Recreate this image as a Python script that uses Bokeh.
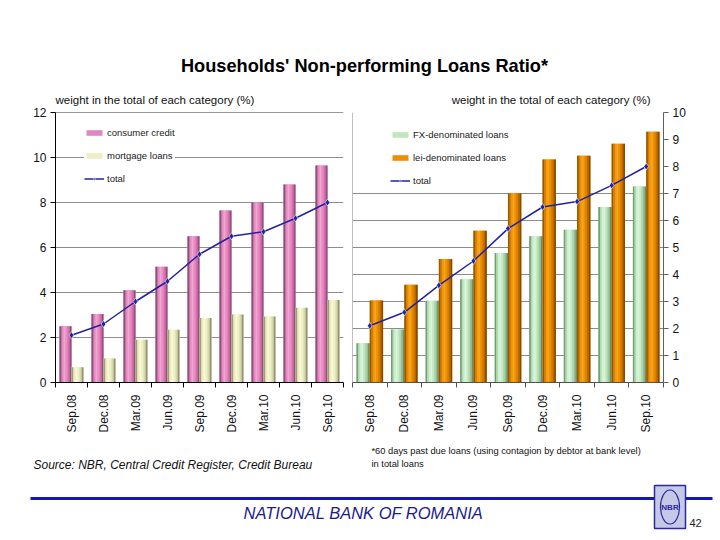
import math
from bokeh.plotting import figure
from bokeh.models import (Range1d, LinearAxis, FixedTicker,
                          Legend, LegendItem, Span, Grid, ColumnDataSource)
from bokeh.transform import dodge
from bokeh.layouts import column, row
from bokeh.core.properties import value
from bokeh.embed import file_html
from bokeh.resources import INLINE

# ---------------- data ----------------
categories = ["Sep.08", "Dec.08", "Mar.09", "Jun.09", "Sep.09", "Dec.09", "Mar.10", "Jun.10", "Sep.10"]
consumer_credit = [2.5, 3.05, 4.1, 5.15, 6.5, 7.65, 8.0, 8.8, 9.65]
mortgage_loans = [0.68, 1.07, 1.9, 2.35, 2.87, 3.02, 2.93, 3.32, 3.67]
total_ratio = [2.1, 2.6, 3.6, 4.5, 5.7, 6.5, 6.7, 7.3, 8.0]
fx_loans = [1.45, 1.96, 3.03, 3.82, 4.8, 5.42, 5.66, 6.5, 7.26]
lei_loans = [3.04, 3.62, 4.57, 5.62, 7.01, 8.26, 8.4, 8.84, 9.29]
left_ticks = [0, 2, 4, 6, 8, 10, 12]
right_ticks = [0, 1, 2, 3, 4, 5, 6, 7, 8, 9, 10]
left_grid = [2, 4, 6, 8, 10]
right_grid = [1, 2, 3, 4, 5, 6, 7]

FONT = "Liberation Sans"
LINE_C = "#22229E"
GRID_C = "#8C8C8C"
AXIS_TITLE = "weight in the total of each category (%)"

N = len(categories)
centers = [i + 0.5 for i in range(N)]          # category slots on a numeric scale
edges = list(range(N + 1))                      # slot boundaries (tick marks)
cat_labels = {c: lab for c, lab in zip(centers, categories)}

src = ColumnDataSource(dict(pos=centers, cat=categories, consumer=consumer_credit, mortgage=mortgage_loans,
                            total=total_ratio, fx=fx_loans, lei=lei_loans))

PINK = ["#8E4C74", "#C872A6", "#EA96CA", "#F2A6D6", "#EA90C6", "#DC80B6", "#C46AA0", "#93507C"]
CREAM = ["#9C9C7C", "#DCDCAE", "#F4F4D0", "#FAFAD8", "#F0F0C6", "#E2E2B4", "#C8C89C", "#929274"]
GREEN = ["#749E74", "#B2DAB2", "#D0F0D0", "#DAF6DA", "#C6EAC6", "#B0D8B0", "#94BE94", "#6A906A"]
ORANGE = ["#965800", "#D47E00", "#F29A12", "#F8A620", "#EE9200", "#DA8000", "#BC6A00", "#864C00"]


def shaded_bars(p, col, offset, width, colors, base_color):
    base = p.vbar(x=dodge("pos", offset), top=col, width=width, source=src,
                  fill_color=base_color, line_color=None)
    n = len(colors)
    sw = width / n
    for i, c in enumerate(colors):
        off = offset - width / 2 + (i + 0.5) * sw
        p.vbar(x=dodge("pos", off), top=col, width=sw * 1.05, source=src,
               fill_color=c, line_color=None)
    return base


def total_line(p):
    ln = p.line(x="pos", y="total", source=src, line_color=LINE_C, line_width=1.5)
    sc = p.scatter(x="pos", y="total", source=src, marker="diamond", size=7,
                   fill_color=LINE_C, line_color="white", line_width=0.6)
    return ln, sc


def cat_axis(color):
    return LinearAxis(ticker=FixedTicker(ticks=centers, minor_ticks=edges), major_label_overrides=cat_labels,
                      axis_line_color=color, major_tick_line_color=None, major_tick_out=0, major_tick_in=0,
                      minor_tick_line_color=color, minor_tick_out=5, minor_tick_in=0,
                      major_label_orientation=math.pi / 2, major_label_text_font=FONT,
                      major_label_text_font_size="12px", major_label_standoff=7,
                      major_label_text_color="#111111")


def y_axis(ticks, line_color):
    return LinearAxis(ticker=FixedTicker(ticks=ticks), major_tick_out=5, major_tick_in=0,
                      minor_tick_line_color=None, axis_line_color=line_color,
                      major_tick_line_color=line_color,
                      major_label_text_font=FONT, major_label_text_font_size="12px",
                      major_label_standoff=4, major_label_text_color="#111111")


def legend(items, loc, pad, bg):
    return Legend(items=items, location=loc, orientation="vertical", border_line_color=None,
                  background_fill_color="white", background_fill_alpha=bg, padding=pad, margin=0,
                  spacing=12, glyph_width=20, glyph_height=7, label_height=8, label_standoff=3,
                  label_text_font=FONT, label_text_font_size="9.5px", label_text_color="#1a1a1a")


def chart(width, y_max, borders):
    p = figure(width=width, height=334, x_range=Range1d(0, N), y_range=Range1d(0, y_max),
               output_backend="svg", toolbar_location=None,
               x_axis_location=None, y_axis_location=None, outline_line_color=None,
               min_border_left=borders[0], min_border_right=borders[1],
               min_border_top=borders[2], min_border_bottom=borders[3])
    p.grid.visible = False
    return p


# ---------------- left chart ----------------
pl = chart(347, 12, (55, 4, 6, 58))
pl.add_layout(Grid(dimension=1, ticker=FixedTicker(ticks=left_grid), grid_line_color=GRID_C))
pl.add_layout(y_axis(left_ticks, "black"), "left")
pl.add_layout(cat_axis("black"), "below")

b_cons = shaded_bars(pl, "consumer", -0.1875, 0.375, PINK, "#E088BE")
b_mort = shaded_bars(pl, "mortgage", 0.1875, 0.375, CREAM, "#EEEEC4")
l_ln, l_sc = total_line(pl)
pl.add_layout(legend([LegendItem(label="consumer credit", renderers=[b_cons]),
                      LegendItem(label="mortgage loans", renderers=[b_mort]),
                      LegendItem(label="total", renderers=[l_ln, l_sc])], (29, 198), 14, 1.0))
pl.add_layout(Span(location=12, dimension="width", line_color="#333333", line_width=1))

# ---------------- right chart ----------------
pr = chart(373, 10, (5, 57, 4, 58))
pr.add_layout(Grid(dimension=1, ticker=FixedTicker(ticks=right_grid), grid_line_color=GRID_C))
pr.add_layout(y_axis(right_ticks, "#606060"), "right")
pr.add_layout(cat_axis("#505050"), "below")
pr.add_layout(Span(location=0, dimension="height", line_color="#808080", line_width=1))

b_fx = shaded_bars(pr, "fx", -0.1925, 0.385, GREEN, "#C0E6C0")
b_lei = shaded_bars(pr, "lei", 0.1925, 0.385, ORANGE, "#EE8E00")
r_ln, r_sc = total_line(pr)
pr.add_layout(legend([LegendItem(label="FX-denominated loans", renderers=[b_fx]),
                      LegendItem(label="lei-denominated loans", renderers=[b_lei]),
                      LegendItem(label="total", renderers=[r_ln, r_sc])], (38, 196), 0, 0.0))


# ---------------- title & footer ----------------
def blank(w, h):
    p = figure(width=w, height=h, x_range=Range1d(0, w), y_range=Range1d(0, h), output_backend="svg",
               toolbar_location=None, min_border=0, x_axis_location=None, y_axis_location=None,
               outline_line_color=None)
    p.grid.visible = False
    return p


pt = blank(720, 106)
pt.text(x=[364], y=[41], text=["Households' Non-performing Loans Ratio*"], text_font=value(FONT),
        text_font_style="bold", text_font_size="18.2px", text_align="center", text_baseline="middle",
        text_color="#000000")
pt.text(x=[55], y=[6.5], text=[AXIS_TITLE], text_font=value(FONT), text_font_size="11.5px",
        text_align="left", text_baseline="middle", text_color="#111111")
pt.text(x=[650], y=[6.5], text=[AXIS_TITLE], text_font=value(FONT), text_font_size="11.5px",
        text_align="right", text_baseline="middle", text_color="#111111")

pb = blank(720, 100)
pb.text(x=[33], y=[76], text=["Source: NBR, Central Credit Register, Credit Bureau"], text_font=value(FONT),
        text_font_style="italic", text_font_size="12px", text_align="left", text_baseline="middle",
        text_color="#111111")
pb.text(x=[371, 371], y=[90, 77],
        text=["*60 days past due  loans (using contagion by debtor at bank level)", "in total loans"],
        text_font=value(FONT), text_font_size="9.3px", text_align="left", text_baseline="middle",
        text_color="#111111")
pb.segment(x0=[30, 685], y0=[42, 42], x1=[654, 712], y1=[42, 42], line_color="#1414C4", line_width=3)
pb.rect(x=[669.5], y=[33.5], width=[31], height=[43], fill_color="#C5C9E6", line_color="#2A2AA0",
        line_width=1.5)
pb.ellipse(x=[669.5], y=[33.5], width=[19], height=[34], fill_color=None, line_color="#2A2AA0",
           line_width=1.2)
pb.text(x=[669.5], y=[33.5], text=["NBR"], text_font=value(FONT), text_font_style="bold",
        text_font_size="8px", text_align="center", text_baseline="middle", text_color="#2A2AA0")
pb.text(x=[363], y=[28], text=["NATIONAL BANK OF ROMANIA"], text_font=value(FONT),
        text_font_style="italic", text_font_size="16.5px", text_align="center", text_baseline="middle",
        text_color="#1C1C8C")
pb.text(x=[695], y=[18], text=["42"], text_font=value(FONT), text_font_size="11px",
        text_align="center", text_baseline="middle", text_color="#222222")

layout = column(pt, row(pl, pr), pb)
open("out.html", "w").write(file_html(layout, INLINE))
